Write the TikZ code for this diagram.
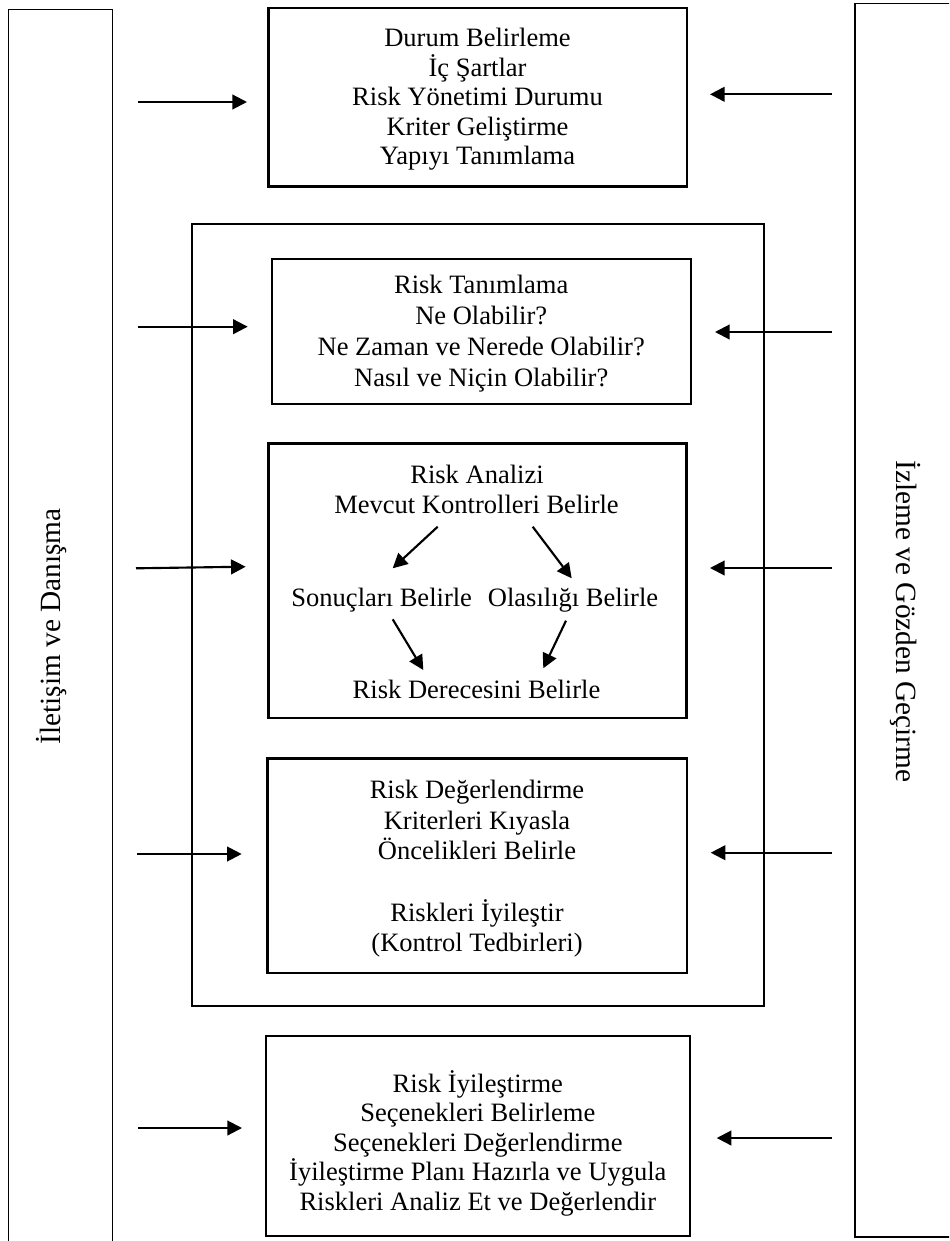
\documentclass[tikz,border=0pt]{standalone}
\usepackage{fontspec}
\setmainfont{Liberation Serif}
\usetikzlibrary{arrows.meta,fit}

\begin{document}
\begin{tikzpicture}[x=0.75pt,y=-0.75pt,
  box/.style={draw, line width=1.8pt, inner sep=0pt, outer sep=0pt},
  bar/.style={draw, line width=1pt, inner sep=0pt, outer sep=0pt},
  txt/.style={inner sep=0pt, align=center, anchor=base,
    font=\fontsize{19.9pt}{22.5pt}\selectfont},
  lines/.style={txt, font=\fontsize{19.9pt}{#1}\selectfont},
  side/.style={inner sep=0pt, font=\fontsize{22pt}{26pt}\selectfont},
  arr/.style={line width=1.6pt, -{Triangle[length=11pt,width=11pt]}}]

\useasboundingbox (0,0) rectangle (949,1241);
\clip (0,0) rectangle (949,1241);

% side bars (running off the page edge)
\node[bar, fit={(8.3,9.3) (112.3,1260)}] (leftbar) {};
\node[bar, fit={(855,3.3) (970,1237)}] (rightbar) {};
\node[side, rotate=90] (lefttext) at (52,626.5) {İletişim ve Danışma};
\node[side, rotate=-90] (righttext) at (905,621.5) {İzleme ve Gözden Geçirme};

% process boxes
\node[box, fit={(268.3,8.3) (686.7,186.7)}] (context) {};
\node[box, fit={(191.7,224.3) (764,1006)}] (assess) {};
\node[box, fit={(271.7,258.7) (690.7,404)}] (ident) {};
\node[box, fit={(268.3,443.3) (686.3,718)}] (analysis) {};
\node[box, fit={(267.3,758.3) (686.7,972.7)}] (evaluation) {};
\node[box, fit={(265.7,1036) (690,1236)}] (treatment) {};

% box texts (anchored on the baseline of the last line)
\node[lines=22.2pt] (t1) at (477.5,165) {Durum Belirleme\\İç Şartlar\\Risk Yönetimi Durumu\\Kriter Geliştirme\\Yapıyı Tanımlama};
\node[lines=23.4pt] (t2) at (481.2,386.7) {Risk Tanımlama\\Ne Olabilir?\\Ne Zaman ve Nerede Olabilir?\\Nasıl ve Niçin Olabilir?};
\node[lines=23pt] (t4) at (477,951.7) {Risk Değerlendirme\\Kriterleri Kıyasla\\Öncelikleri Belirle\\[23pt]Riskleri İyileştir\\(Kontrol Tedbirleri)};
\node[lines=22.1pt] (t5) at (477.8,1210) {Risk İyileştirme\\Seçenekleri Belirleme\\Seçenekleri Değerlendirme\\İyileştirme Planı Hazırla ve Uygula\\Riskleri Analiz Et ve Değerlendir};

% analysis steps
\node[txt] (ra) at (477,483) {Risk Analizi};
\node[txt] (mk) at (476.5,513) {Mevcut Kontrolleri Belirle};
\node[txt] (sb) at (381.7,606) {Sonuçları Belirle};
\node[txt] (ob) at (573,606) {Olasılığı Belirle};
\node[txt] (rd) at (476.5,698) {Risk Derecesini Belirle};

% analysis flow arrows
\coordinate (a1s) at (437.7,526.7); \coordinate (a1e) at (392.7,568.3);
\coordinate (a2s) at (532.7,526.7); \coordinate (a2e) at (571.7,578.3);
\coordinate (a3s) at (392.7,619.3); \coordinate (a3e) at (423.3,670);
\coordinate (a4s) at (566,620.7);   \coordinate (a4e) at (543.3,668.3);
\draw[arr] (a1s) -- (a1e);
\draw[arr] (a2s) -- (a2e);
\draw[arr] (a3s) -- (a3e);
\draw[arr] (a4s) -- (a4e);

% arrows from the communication bar
\coordinate (l1s) at (138,102);   \coordinate (l1e) at (247,102);
\coordinate (l2s) at (138,326.7); \coordinate (l2e) at (247.7,326.7);
\coordinate (l3s) at (136,568.3); \coordinate (l3e) at (245.7,566.7);
\coordinate (l4s) at (137,854);   \coordinate (l4e) at (241.7,854);
\coordinate (l5s) at (138,1128);  \coordinate (l5e) at (242,1128);
\foreach \i in {1,...,5} \draw[arr] (l\i s) -- (l\i e);

% arrows from the monitoring bar
\coordinate (r1s) at (832,94.3);  \coordinate (r1e) at (710,94.3);
\coordinate (r2s) at (832,332);   \coordinate (r2e) at (715,332);
\coordinate (r3s) at (832,568);   \coordinate (r3e) at (710,568);
\coordinate (r4s) at (832,852.7); \coordinate (r4e) at (710.7,852.7);
\coordinate (r5s) at (832,1138);  \coordinate (r5e) at (716.7,1138);
\foreach \i in {1,...,5} \draw[arr] (r\i s) -- (r\i e);

\end{tikzpicture}
\end{document}
